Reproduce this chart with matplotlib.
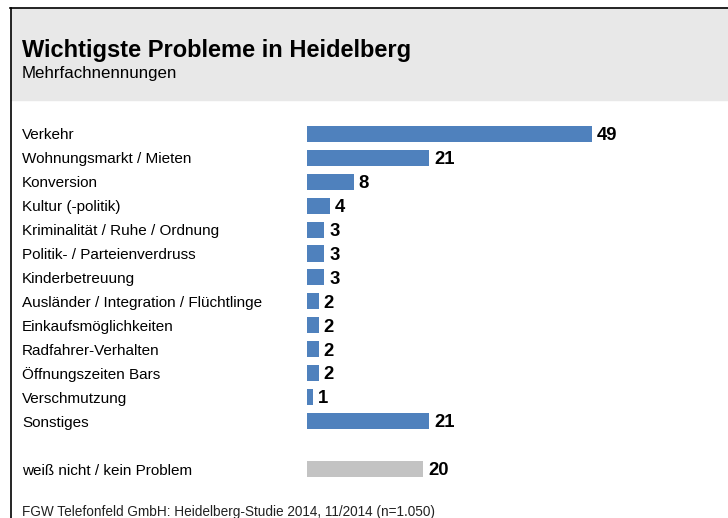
import matplotlib
matplotlib.use("Agg")
import matplotlib.pyplot as plt
from matplotlib.patches import Rectangle

plt.rcParams['font.family'] = ['Liberation Sans', 'DejaVu Sans']

categories = [
    "Verkehr",
    "Wohnungsmarkt / Mieten",
    "Konversion",
    "Kultur (-politik)",
    "Kriminalität / Ruhe / Ordnung",
    "Politik- / Parteienverdruss",
    "Kinderbetreuung",
    "Ausländer / Integration / Flüchtlinge",
    "Einkaufsmöglichkeiten",
    "Radfahrer-Verhalten",
    "Öffnungszeiten Bars",
    "Verschmutzung",
    "Sonstiges",
]
values = [49, 21, 8, 4, 3, 3, 3, 2, 2, 2, 2, 1, 21]
other_label = "weiß nicht / kein Problem"
other_value = 20

title = "Wichtigste Probleme in Heidelberg"
subtitle = "Mehrfachnennungen"
source = "FGW Telefonfeld GmbH: Heidelberg-Studie 2014, 11/2014 (n=1.050)"

W, H = 728, 518
fig = plt.figure(figsize=(W / 100, H / 100), dpi=100)

# header band and frame
fig.patches.append(Rectangle((11 / W, 1 - 100 / H), 1, 92 / H,
                             transform=fig.transFigure, color="#e8e8e8", zorder=0))
fig.add_artist(plt.Line2D([10 / W, 1], [1 - 7.5 / H] * 2, color="black", lw=1.2))
fig.add_artist(plt.Line2D([10.5 / W] * 2, [0, 1 - 7.5 / H], color="black", lw=1.2))

fig.text(22 / W, 1 - 51 / H, title, fontsize=17, fontweight="bold", va="center")
fig.text(22 / W, 1 - 74 / H, subtitle, fontsize=12.2, va="center")
fig.text(22 / W, 1 - 512 / H, source, fontsize=9.8, va="center", color="#222222")

# bar axes: x=0 at px 307, 5.82 px per unit; rows 23.9 px apart starting at y=134
row0, step = 134, 23.9
top = row0 - 0.5 * step
bottom = row0 + 14.5 * step
ax = fig.add_axes([307 / W, 1 - bottom / H, 70 * 5.82 / W, (bottom - top) / H])
ax.set_xlim(0, 70)
ax.set_ylim(14.5, -0.5)
ax.axis("off")

ypos = list(range(len(categories)))
ax.barh(ypos, values, height=0.67, color="#4f81bd")
ax.barh([14], [other_value], height=0.67, color="#c3c3c3")

# category labels sit on their own baselines (slightly wider spacing than the bars)
for y, lab, v in zip(ypos + [14], categories + [other_label], values + [other_value]):
    base = 139 + 24.0 * y
    fig.text(22 / W, 1 - base / H, lab, fontsize=11, va="baseline")
    ax.text(v + 0.85, y, str(v), fontsize=13.3, fontweight="bold",
            va="center_baseline")

fig.savefig("out.png", dpi=100)
